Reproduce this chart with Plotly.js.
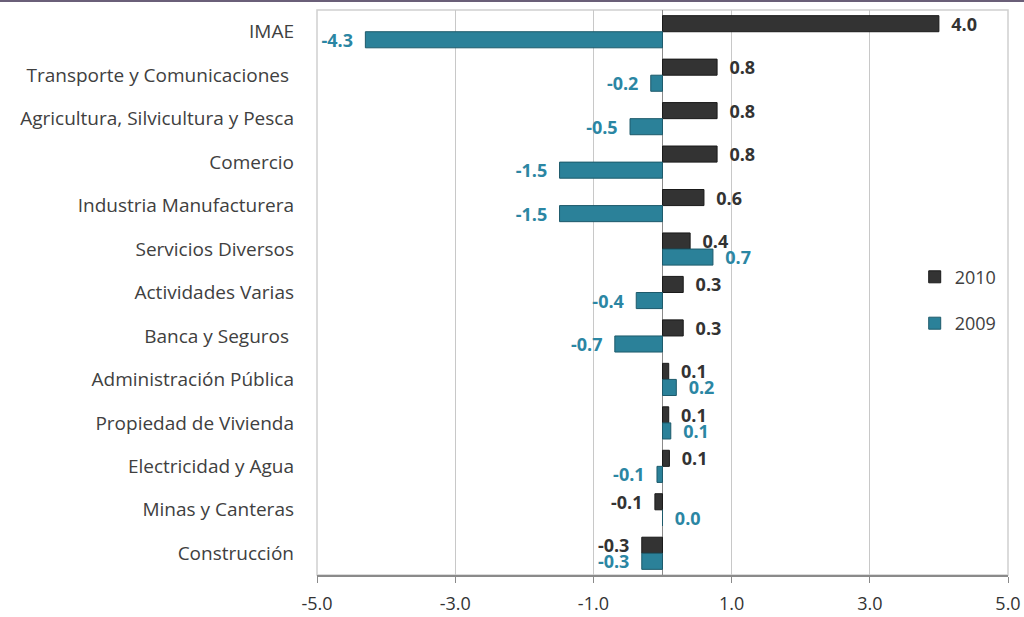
<!DOCTYPE html>
<html>
<head>
<meta charset="utf-8">
<script src="https://cdn.plot.ly/plotly-3.0.1.min.js"></script>
<style>
html,body{margin:0;padding:0;background:#fff;}
#topline{position:absolute;left:0;top:0;width:1024px;height:2px;background:#6a5f78;z-index:5;}
#chart{width:1024px;height:617px;}
</style>
</head>
<body>
<div id="topline"></div>
<div id="chart"></div>
<script>
const categories = [
  "IMAE",
  "Transporte y Comunicaciones ",
  "Agricultura, Silvicultura y Pesca",
  "Comercio",
  "Industria Manufacturera",
  "Servicios Diversos",
  "Actividades Varias",
  "Banca y Seguros ",
  "Administración Pública",
  "Propiedad de Vivienda",
  "Electricidad y Agua",
  "Minas y Canteras",
  "Construcción"
];
const values2010 = [4.0, 0.79, 0.79, 0.79, 0.6, 0.4, 0.3, 0.3, 0.09, 0.09, 0.1, -0.11, -0.3];
const values2009 = [-4.3, -0.17, -0.47, -1.49, -1.49, 0.73, -0.38, -0.69, 0.2, 0.12, -0.08, 0.0, -0.3];
const xTicks = [-5, -3, -1, 1, 3, 5];
const xTickText = ["-5.0", "-3.0", "-1.0", "1.0", "3.0", "5.0"];

const FONT = "Open Sans, Liberation Sans, sans-serif";
const c2010 = "#333333";
const c2009 = "#2b8199";
const GAP = "\u00a0\u00a0";
const labelTpl = vals => vals.map(v => v >= 0 ? GAP + "%{x:.1f}" : "%{x:.1f}" + GAP);

const traces = [
  {
    type: "bar", orientation: "h", name: "2010", legendgroup: "a",
    y: categories, x: values2010,
    marker: {color: c2010, line: {color: "#1a1a1a", width: 1}},
    texttemplate: labelTpl(values2010), textposition: "outside", cliponaxis: false,
    constraintext: "none",
    textfont: {family: FONT, size: 18, color: "#333333", weight: "bold"},
    hoverinfo: "x+y"
  },
  {
    type: "bar", orientation: "h", name: "2009", legendgroup: "b",
    y: categories, x: values2009,
    marker: {color: c2009, line: {color: "#1d5a6b", width: 1}},
    texttemplate: labelTpl(values2009), textposition: "outside", cliponaxis: false,
    constraintext: "none",
    textfont: {family: FONT, size: 18, color: "#2b86a3", weight: "bold"},
    hoverinfo: "x+y"
  }
];

const layout = {
  width: 1024, height: 617,
  margin: {l: 317, r: 16, t: 10, b: 42},
  paper_bgcolor: "#fff", plot_bgcolor: "#fff",
  font: {family: FONT, size: 18, color: "#404040"},
  barmode: "group", bargap: 0.26, bargroupgap: 0,
  showlegend: true,
  legend: {x: 0.865, y: 0.56, xanchor: "left", yanchor: "top",
           font: {family: FONT, size: 18, color: "#404040"},
           traceorder: "grouped", tracegroupgap: 20, bgcolor: "rgba(0,0,0,0)"},
  xaxis: {
    range: [-5, 5], tickvals: xTicks, ticktext: xTickText,
    showgrid: true, gridcolor: "#c8c8c8", gridwidth: 1,
    zeroline: true, zerolinecolor: "#8a8a8a", zerolinewidth: 1.5,
    showline: true, linecolor: "#8a8a8a", linewidth: 1.5,
    ticks: "outside", ticklen: 6, tickcolor: "#8a8a8a",
    ticklabelstandoff: 6,
    tickfont: {family: FONT, size: 18, color: "#333333"}
  },
  yaxis: {
    autorange: "reversed", type: "category",
    showgrid: false, zeroline: false, showline: false,
    ticks: "", ticklabelstandoff: 22,
    tickfont: {family: FONT, size: 19, color: "#404040"}
  },
  yaxis2: {
    overlaying: "y", anchor: "free", position: 0.4993, side: "left",
    range: [12.5, -0.5], tickvals: [-0.5,0.5,1.5,2.5,3.5,4.5,5.5,6.5,7.5,8.5,9.5,10.5,11.5,12.5],
    showticklabels: false, ticks: "outside", ticklen: 5, tickcolor: "#8a8a8a",
    showgrid: false, zeroline: false, showline: false, fixedrange: true
  },
  shapes: [
    {type: "rect", xref: "paper", yref: "paper", x0: 0, x1: 1, y0: 0, y1: 1,
     line: {color: "#d0d0d0", width: 1.5}, layer: "below"}
  ]
};

Plotly.newPlot("chart", traces, layout, {displayModeBar: false, staticPlot: true});
</script>
</body>
</html>
